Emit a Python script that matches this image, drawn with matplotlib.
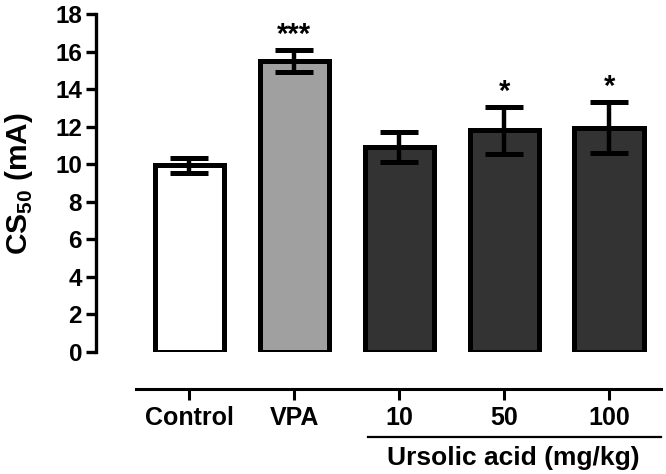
import matplotlib
matplotlib.use("Agg")
import matplotlib.pyplot as plt
import matplotlib.transforms as mtransforms

plt.rcParams['font.family'] = ['Liberation Sans', 'DejaVu Sans']
plt.rcParams['font.weight'] = 'bold'
plt.rcParams['mathtext.fontset'] = 'custom'
plt.rcParams['mathtext.rm'] = 'Liberation Sans'
plt.rcParams['mathtext.bf'] = 'Liberation Sans:bold'

# данные
groups = ['Control', 'VPA', '10', '50', '100']
means = [9.95, 15.5, 10.9, 11.8, 11.95]
errors = [0.4, 0.57, 0.8, 1.25, 1.35]
stars = ['', '***', '', '*', '*']
colors = ['#ffffff', '#a0a0a0', '#333333', '#333333', '#333333']
yticks = [0, 2, 4, 6, 8, 10, 12, 14, 16, 18]

W, H = 666, 474
fig = plt.figure(figsize=(W / 100, H / 100), dpi=100)
ax = fig.add_axes([96 / W, (H - 352) / H, 565 / W, 338 / H])

x = list(range(len(groups)))
ax.bar(x, means, width=0.66, color=colors, edgecolor='black', linewidth=3.6, zorder=2)
ax.errorbar(x, means, yerr=errors, fmt='none', ecolor='black', elinewidth=3.2,
            capsize=14, capthick=3.6, zorder=3)
for xi, m, e, s in zip(x, means, errors, stars):
    if s:
        ax.text(xi, m + e + 0.05, s, ha='center', va='bottom', fontsize=21, fontweight='bold')

ax.set_xlim(-0.891, 4.495)
ax.set_ylim(0, 18)
ax.set_yticks(yticks)
ax.spines['top'].set_visible(False)
ax.spines['right'].set_visible(False)
ax.spines['left'].set_linewidth(2.4)
ax.spines['bottom'].set_position(('outward', 26.6))
ax.spines['bottom'].set_bounds(-0.513, 4.495)
ax.spines['bottom'].set_linewidth(2.2)
ax.tick_params(axis='y', length=7, width=2.4, pad=3, labelsize=17.5)
ax.tick_params(axis='x', length=8, width=2.2, pad=4, labelsize=18)
ax.set_xticks(x)
ax.set_xticklabels(groups)
for lab in ax.get_xticklabels() + ax.get_yticklabels():
    lab.set_fontweight('bold')

# линия под дозами урсоловой кислоты
trans = mtransforms.blended_transform_factory(ax.transData, ax.transAxes)
ax.plot([1.70, 4.495], [-0.2506, -0.2506], color='black', linewidth=1.6,
        transform=trans, clip_on=False)
fig.text(513 / W, 1 - 458 / H, 'Ursolic acid (mg/kg)', ha='center', va='center',
         fontsize=19, fontweight='bold')

fig.text(19 / W, 1 - 184 / H, r'CS$_{\mathrm{50}}$ (mA)', rotation=90, ha='center',
         va='center', fontsize=21.5, fontweight='bold')

fig.savefig('out.png', dpi=100)
